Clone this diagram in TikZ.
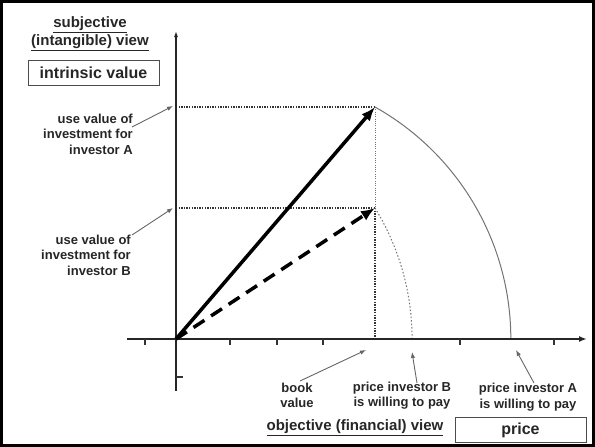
\documentclass[tikz,border=0pt]{standalone}
\usepackage{fontspec}
\setmainfont{Liberation Sans}
\usetikzlibrary{arrows.meta}
\begin{document}
\begin{tikzpicture}[x=1pt,y=1pt,
  lbl/.style={font=\fontsize{13}{15.5}\selectfont\bfseries, align=right, inner sep=0pt, text=black!85},
  clbl/.style={lbl, align=center},
  head/.style={font=\fontsize{15}{18}\selectfont\bfseries, align=center, inner sep=0pt, text=black!85},
  boxed/.style={draw=black!70, line width=1pt, minimum width=131pt, minimum height=25pt, inner sep=0pt, font=\fontsize{16}{19}\selectfont\bfseries, text=black!85},
  axis/.style={line width=2pt, black!85},
  vecA/.style={line width=3.5pt, -{Latex[length=14pt,width=11pt]}},
  vecB/.style={vecA, dash pattern=on 13pt off 8pt},
  dots/.style={line width=1.5pt, dash pattern=on 1.3pt off 1.3pt, black!80},
  lightdots/.style={line width=1pt, dash pattern=on 1pt off 1.3pt, black!55},
  arcA/.style={line width=1pt, black!55},
  arcB/.style={line width=1pt, dash pattern=on 1.5pt off 2pt, black!55},
  pointer/.style={line width=0.9pt, black!60, -{Latex[length=6pt,width=4.5pt]}},
  tick/.style={line width=1.2pt, black!80}
]
\useasboundingbox (0,0) rectangle (595,-447);
\draw[line width=3pt] (1.5,-1.5) rectangle (593.5,-445.5);

% key points
\coordinate (O) at (176,-339);
\coordinate (A) at (375,-107);
\coordinate (B) at (375,-208);
\coordinate (YA) at (176,-107);
\coordinate (YB) at (176,-208);
\coordinate (XAB) at (375,-339);
\coordinate (xl) at (127,-339);
\coordinate (xr) at (587,-339);
\coordinate (yb) at (176,-391);
\coordinate (yt) at (176,-31);

% dotted guides
\draw[dots] (YA) -- (A);
\draw[dots] (YB) -- (B);
\draw[lightdots] (A) -- (B);
\draw[dots] (B) -- (XAB);

% arcs
\draw[arcA] (A) arc[start angle=60.7, end angle=0, radius=266];
\draw[arcB] (B) arc[start angle=31.6, end angle=0, radius=250];

% axes
\draw[axis, -{Latex[length=8pt,width=6pt]}] (xl) -- (xr);
\draw[axis, -{Latex[length=6pt,width=4pt]}] (yb) -- (yt);
\foreach \tx in {145,230,277,323,460,554}
  \draw[tick] (\tx,-339) -- (\tx,-345);
\draw[tick] (176,-377) -- (183,-377);

% vectors
\draw[vecA] (O) -- (A);
\draw[vecB] (O) -- (B);

% texts
\node[head] (subj) at (90,-34) {\underline{subjective}\\\underline{(intangible) view}};
\node[boxed] (intr) at (93.5,-72.5) {intrinsic value};
\node[lbl, anchor=east] (labA) at (133,-134) {use value of\\investment for\\investor A};
\node[lbl, anchor=east] (labB) at (131,-255) {use value of\\investment for\\investor B};
\node[clbl] (book) at (297,-395.5) {book\\value};
\node[clbl] (prB) at (402,-395.5) {price investor B\\is willing to pay};
\node[clbl] (prA) at (528,-397) {price investor A\\is willing to pay};
\node[head] (obj) at (355,-428) {\underline{objective (financial) view}};
\node[boxed] (price) at (520.5,-430) {price};

% pointers
\coordinate (pA0) at (132,-127);
\coordinate (pA1) at (173,-106);
\coordinate (pB0) at (132,-235);
\coordinate (pB1) at (173,-208);
\coordinate (pk0) at (300,-381);
\coordinate (pk1) at (366,-350);
\coordinate (pq0) at (417,-383);
\coordinate (pq1) at (412,-352);
\coordinate (pr0) at (534,-383);
\coordinate (pr1) at (516,-350);
\draw[pointer] (pA0) -- (pA1);
\draw[pointer] (pB0) -- (pB1);
\draw[pointer] (pk0) -- (pk1);
\draw[pointer] (pq0) -- (pq1);
\draw[pointer] (pr0) -- (pr1);
\end{tikzpicture}
\end{document}
